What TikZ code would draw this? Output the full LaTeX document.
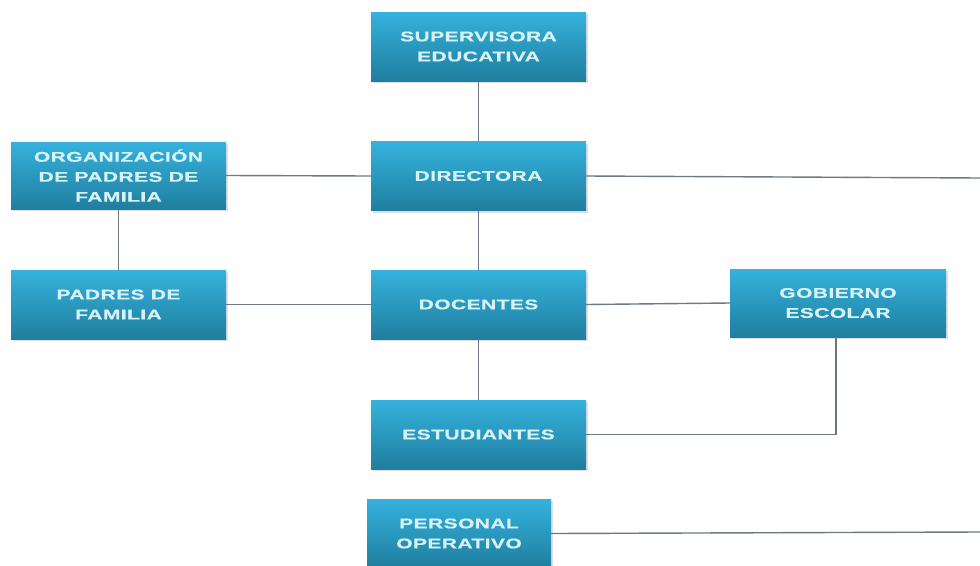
\documentclass[tikz,border=0pt]{standalone}
\usepackage{fontspec}
\newfontfamily\boxfont{Liberation Sans Bold}[FakeStretch=1.5,LetterSpace=3,FakeBold=0.6]
\usetikzlibrary{shadows}
\definecolor{boxtop}{HTML}{35B2DD}
\definecolor{boxbot}{HTML}{1F7E9F}
\definecolor{boxtext}{HTML}{D6F3FA}
\definecolor{linec}{HTML}{6E7882}
\tikzset{
  orgbox/.style={rectangle, minimum width=215pt, minimum height=69pt, inner sep=0pt,
    top color=boxtop, bottom color=boxbot, draw=none,
    drop shadow={shadow xshift=1.5pt, shadow yshift=-2pt, opacity=0.25},
    text=boxtext, align=center, font=\boxfont\fontsize{14}{20}\selectfont},
  conn/.style={draw=linec, line width=1.4pt}
}
\begin{document}
\begin{tikzpicture}[x=1pt,y=-1pt]
\useasboundingbox (0,0) rectangle (980,565);
\clip (0,0) rectangle (980,565);
\fill[white] (0,0) rectangle (980,565);
\coordinate (dirend) at (980,178);
\coordinate (perend) at (980,532);
\node[orgbox] (sup) at (478.5,46.5) {SUPERVISORA\\EDUCATIVA};
\node[orgbox] (dir) at (478.5,176) {DIRECTORA};
\node[orgbox] (doc) at (478.5,304.5) {DOCENTES};
\node[orgbox] (est) at (478.5,434.5) {ESTUDIANTES};
\node[orgbox, minimum width=184pt] (per) at (459,533.5) {PERSONAL\\OPERATIVO};
\node[orgbox, minimum height=67pt] (org) at (118.5,175.5) {ORGANIZACIÓN\\DE PADRES DE\\FAMILIA};
\node[orgbox] (pad) at (118.5,304.5) {PADRES DE\\FAMILIA};
\node[orgbox, minimum width=216pt, minimum height=68pt] (gob) at (838,303) {GOBIERNO\\ESCOLAR};
\draw[conn] (sup.south) -- (dir.north);
\draw[conn] (dir.south) -- (doc.north);
\draw[conn] (doc.south) -- (est.north);
\draw[conn] (org.east) -- (dir.west);
\draw[conn] (org.south) -- (pad.north);
\draw[conn] (pad.east) -- (doc.west);
\draw[conn] (doc.east) -- (gob.west);
\draw[conn] (dir.east) -- (dirend);
\draw[conn] (per.east) -- (perend);
\draw[conn] (est.east) -| ([xshift=-2pt]gob.south);
\end{tikzpicture}
\end{document}
